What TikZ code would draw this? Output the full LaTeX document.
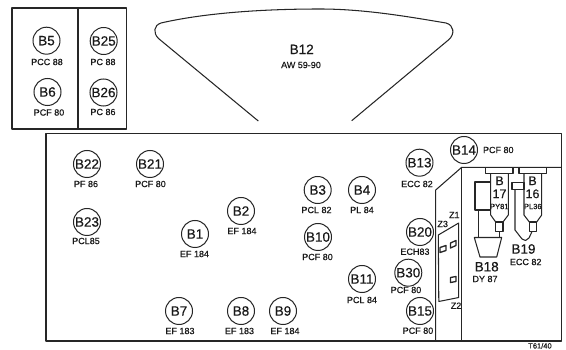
\documentclass[tikz,border=0pt]{standalone}
\usepackage{fontspec}
\setmainfont[RawFeature={embolden=0.5}]{Liberation Sans}
\tikzset{
 ln/.style={line width=1.05pt,draw=black!85,line join=round},
 tube/.style={circle,draw=black!85,line width=1pt,minimum size=27pt,inner sep=0pt,font=\fontsize{13.5}{14}\selectfont,text=black!90},
 lab/.style={inner sep=0pt,font=\fontsize{9}{9}\selectfont,text=black!90},
 big/.style={inner sep=0pt,font=\fontsize{13.5}{14}\selectfont,text=black!90},
 mid/.style={inner sep=0pt,font=\fontsize{12.5}{13}\selectfont,text=black!90},
 tiny/.style={inner sep=0pt,font=\fontsize{7.5}{8}\selectfont,text=black!90}
}
\begin{document}
\begin{tikzpicture}[x=1pt,y=-1pt]
\useasboundingbox (0,0) rectangle (566,350);
% upper-left boxes
\draw[ln] (12,8) rectangle (126.5,129);
\draw[ln] (78,8) -- (78,129);
% picture tube
\draw[ln] (258.3,121) -- (158.5,38.5) .. controls (153,33) and (153.5,25.5) .. (161,23) .. controls (200,14) and (255,9) .. (320,9) .. controls (365,9) and (410,17) .. (446,23) .. controls (454,25) and (455,34) .. (449,39.5) -- (351.7,120.7);
% chassis
\draw[ln] (46,341) -- (46,133.5) -- (561.7,133.5) -- (561.7,341) -- cycle;
\draw[ln] (561.7,167.3) -- (461.7,167.3) -- (435.7,190) -- (435.7,341);
\draw[ln] (461.7,167.3) -- (461.7,341);
% Z panel
\draw[ln] (438.3,235) -- (458.7,223) -- (458.7,297.5) -- (438.8,301.5) -- cycle;
\draw[ln,line width=1.3pt] (440,247.5) -- (446,245.5) -- (446,250.5) -- (440,252.5) -- cycle;
\draw[ln,line width=1.3pt] (450.5,243) -- (456,240.5) -- (456,245.5) -- (450.5,248) -- cycle;
\draw[ln,line width=1.3pt] (450.5,277.5) -- (456,276.5) -- (456,281.5) -- (450.5,282.5) -- cycle;
% B17
\draw[ln] (485.5,167.3) rectangle (513,173.3);
\draw[ln] (490.7,173.3) -- (490.7,215) -- (495.7,222) (508.3,173.3) -- (508.3,215) -- (503,222);
\draw[ln] (495.7,222) rectangle (503,231.5);
% B16
\draw[ln] (519,167.3) rectangle (546.7,173.3);
\draw[ln] (524,173.3) -- (524,215) -- (529.3,222) (541.7,173.3) -- (541.7,215) -- (536.7,222);
\draw[ln] (529.3,222) rectangle (536.7,231.5);
% B17 side box and B18 funnel
\draw[ln] (490.7,182) -- (475,182) -- (475,210) -- (490.7,210);
\draw[ln] (478.5,210) -- (478.5,237.5);
\draw[ln] (499.3,231.5) -- (499.3,237.5);
\draw[ln] (474.3,237.5) -- (501.7,237.5) -- (496.7,257) -- (480,257) -- cycle;
% B19
\draw[ln] (512,182.3) rectangle (524,189.3);
\draw[ln] (515,189.3) -- (515,230) -- (522,239) -- (525.5,240.5) -- (529,238) -- (532,231.5);
% circled tubes
\foreach \n/\t/\xx/\yy in {a/B5/46.5/40.7,b/B25/103.7/41,c/B6/47.5/92,d/B26/103.5/92.5,
 e/B22/87/164,f/B21/150/164,g/B23/87/222,h/B1/195/234,i/B2/241/211,j/B3/317.7/190,k/B4/362/190,
 l/B10/318/237,m/B11/362/279,n/B7/179/311,o/B8/241/311,p/B9/283/311,q/B14/464/150,r/B13/419.5/162.7,
 s/B20/420/232,t/B30/408.3/272.7,u/B15/420/311}
 \node[tube] (\n) at (\xx,\yy) {\t};
% tube type labels
\foreach \n/\t/\xx/\yy in {la/PCC 88/47/62,lb/PC 88/103/62,lc/PCF 80/49/112.5,ld/PC 86/103/112,
 le/PF 86/86/184,lf/PCF 80/150.5/184,lg/PCL85/86/241,lh/EF 184/194.5/254,li/EF 184/242/231,
 lj/PCL 82/316.5/210,lk/PL 84/362/210,ll/PCF 80/317.5/257,lm/PCL 84/362/300,ln2/EF 183/180/331,
 lo/EF 183/239.5/331,lp/EF 184/285/331,lq/PCF 80/498.3/150,lr/ECC 82/417/184,ls/ECH83/415/251.7,
 lt/PCF 80/406/290,lu/PCF 80/418/330.7,ly/AW 59-90/301/65,lz/ECC 82/525.7/262,ld2/DY 87/485/279}
 \node[lab] (\n) at (\xx,\yy) {\t};
\node[big] (b12) at (301.7,49.3) {B12};
\node[big] (b18) at (486.7,266.7) {B18};
\node[big] (b19) at (523.5,249) {B19};
\node[mid] (b17a) at (499.5,180.8) {B};
\node[mid] (b17b) at (499.5,193.8) {17};
\node[mid] (b16a) at (532.5,180.8) {B};
\node[mid] (b16b) at (532.5,193.8) {16};
\node[tiny] (py) at (499.3,206.5) {PY81};
\node[tiny] (pl) at (532.8,206.5) {PL36};
\node[lab] (z1) at (454.3,215) {Z1};
\node[lab] (z3) at (442.7,224) {Z3};
\node[lab] (z2) at (456,305.7) {Z2};
\node[tiny] (code) at (540,345.8) {T61/40};
\end{tikzpicture}
\end{document}
